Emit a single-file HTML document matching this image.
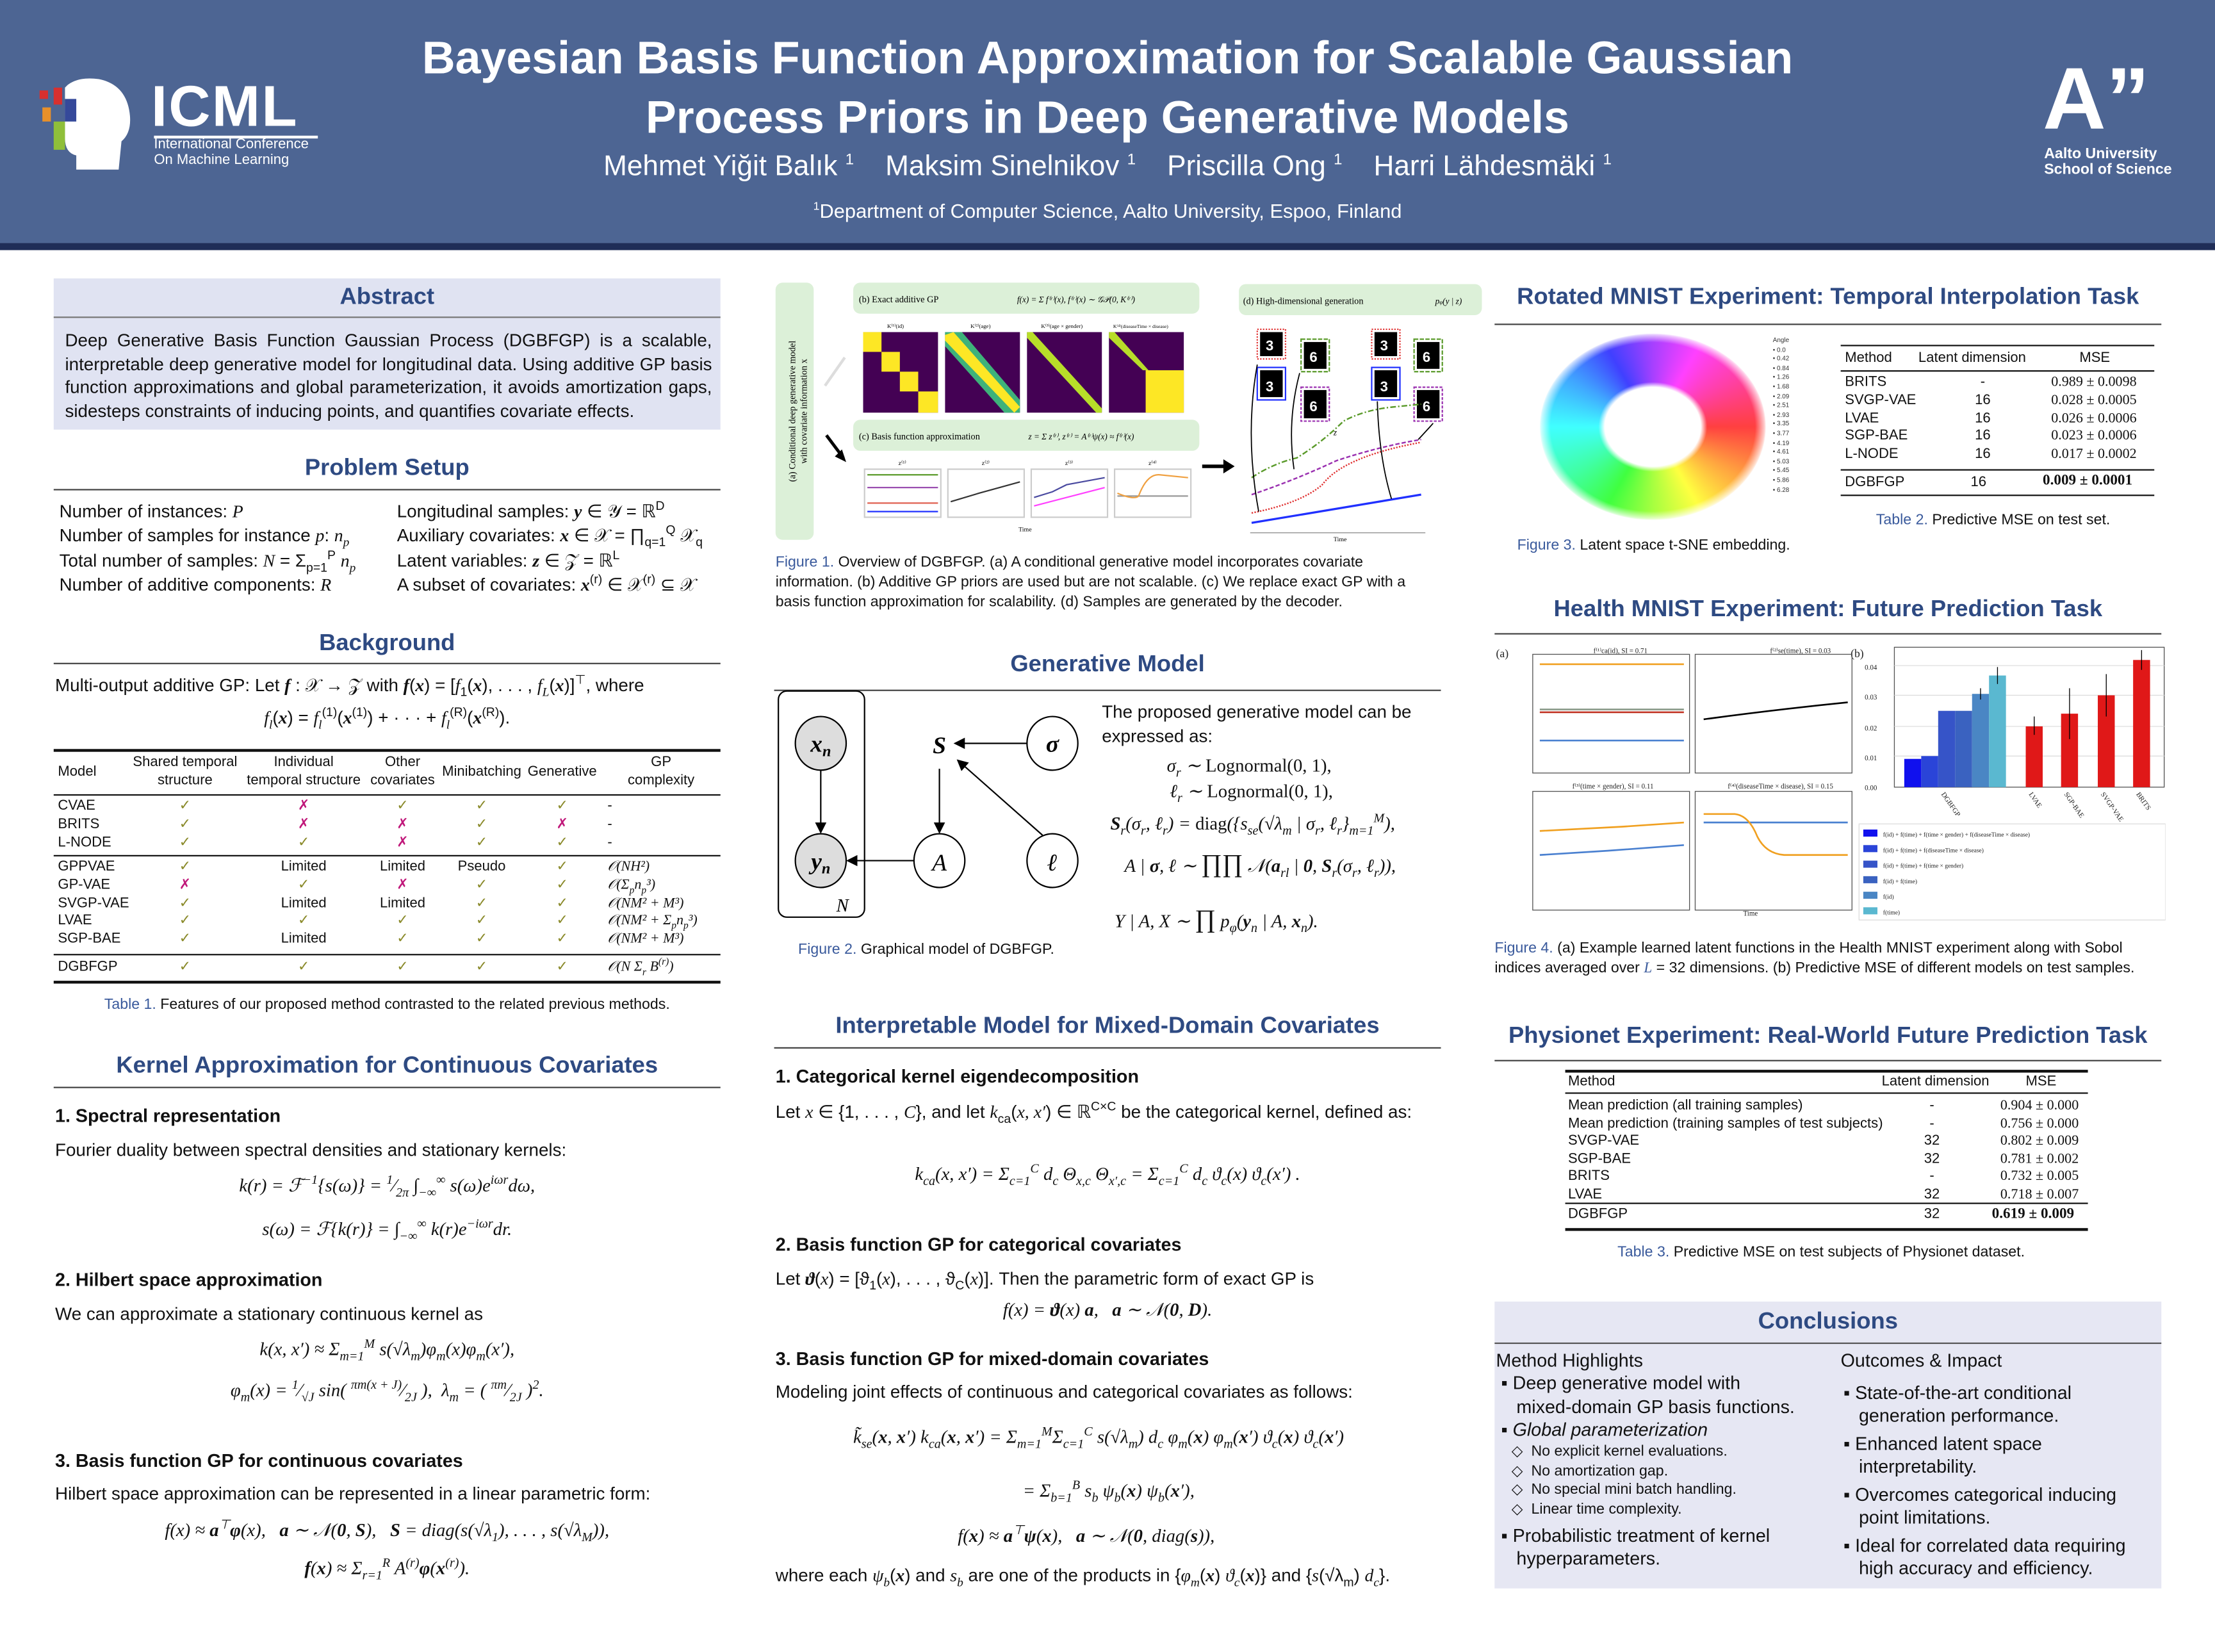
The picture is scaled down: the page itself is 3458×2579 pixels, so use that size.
<!DOCTYPE html>
<html><head><meta charset="utf-8">
<style>
html,body{margin:0;padding:0;background:#fff;}
body{width:3458px;height:2579px;overflow:hidden;position:relative;}
#p{position:absolute;left:0;top:0;width:1568px;height:1169px;transform:scale(2.2054,2.2062);transform-origin:0 0;font-family:"Liberation Sans",sans-serif;color:#111;}
sup,sub{line-height:0;font-size:70%;}
.t{position:absolute;white-space:nowrap;}
.b13{font-size:12.6px;}
.m{font-family:"Liberation Serif",serif;font-style:italic;}
.h{position:absolute;font-weight:bold;font-size:16.5px;color:#2e4a82;white-space:nowrap;text-align:center;}
.ln{position:absolute;height:1px;background:#444;}
.cap{position:absolute;font-size:10.5px;white-space:nowrap;}
.cap span{color:#3a5a9c;}
.sub{font-weight:bold;font-size:13px;}
.tb{position:absolute;font-size:10px;}
.ck{color:#8a8a2a;}
.xx{color:#c0187a;}
.c{position:absolute;text-align:center;transform:translateX(-50%);white-space:nowrap;}
</style></head><body><div id="p">

<!-- HEADER -->
<div style="position:absolute;left:0;top:0;width:1568px;height:172px;background:#4d6593;"></div>
<div style="position:absolute;left:0;top:172px;width:1568px;height:5px;background:#1f2d57;"></div>
<svg class="t" style="left:26px;top:52px" width="70" height="70" viewBox="0 0 70 70">
<path d="M22 8 Q30 2 44 4 Q64 8 66 30 Q67 42 60 48 L58 68 L28 68 L28 58 Q20 56 20 46 L20 10 Z" fill="#fff"/>
<rect x="12" y="10" width="6" height="12" fill="#d8302f"/><rect x="20" y="18" width="8" height="16" fill="#35499a"/>
<rect x="4" y="24" width="6" height="10" fill="#e8902a"/><rect x="12" y="34" width="8" height="20" fill="#8fbf3a"/>
<rect x="2" y="12" width="6" height="6" fill="#d8302f"/>
</svg>
<div class="t" style="left:107px;top:52px;font-size:41px;font-weight:bold;color:#fff;letter-spacing:1px">ICML</div>
<div style="position:absolute;left:109px;top:96px;width:116px;height:2px;background:#fff"></div>
<div class="t" style="left:109px;top:97px;font-size:10px;color:#fff;line-height:11px">International Conference<br>On Machine Learning</div>
<div class="c" style="left:784px;top:20px;font-size:32.5px;font-weight:bold;color:#fff;line-height:42px">Bayesian Basis Function Approximation for Scalable Gaussian<br>Process Priors in Deep Generative Models</div>
<div class="c" style="left:784px;top:107px;font-size:20px;color:#fff">Mehmet Yiğit Balık <sup style="font-size:11px">1</sup>&nbsp;&nbsp;&nbsp; Maksim Sinelnikov <sup style="font-size:11px">1</sup>&nbsp;&nbsp;&nbsp; Priscilla Ong <sup style="font-size:11px">1</sup>&nbsp;&nbsp;&nbsp; Harri Lähdesmäki <sup style="font-size:11px">1</sup></div>
<div class="c" style="left:784px;top:141px;font-size:14px;color:#fff"><sup style="font-size:8px">1</sup>Department of Computer Science, Aalto University, Espoo, Finland</div>
<div class="t" style="left:1446px;top:36px;font-size:62px;font-weight:bold;color:#fff;line-height:70px">A”</div>
<div class="t" style="left:1447px;top:104px;font-size:10.5px;font-weight:bold;color:#fff;line-height:11px">Aalto University<br>School of Science</div>

<!-- COLUMN 1 -->
<div style="position:absolute;left:38px;top:197px;width:472px;height:107px;background:#e0e3f2"></div>
<div class="h" style="left:38px;width:472px;top:201px">Abstract</div>
<div class="ln" style="left:38px;width:472px;top:224px;background:#777"></div>
<div class="t b13" style="left:46px;top:233px;line-height:16.5px;width:458px;white-space:normal;text-align:justify">Deep Generative Basis Function Gaussian Process (DGBFGP) is a scalable, interpretable deep generative model for longitudinal data. Using additive GP basis function approximations and global parameterization, it avoids amortization gaps, sidesteps constraints of inducing points, and quantifies covariate effects.</div>

<div class="h" style="left:38px;width:472px;top:322px">Problem Setup</div>
<div class="ln" style="left:38px;width:472px;top:346px"></div>
<div class="t b13" style="left:42px;top:354px;line-height:17.3px">Number of instances: <span class="m">P</span><br>Number of samples for instance <span class="m">p</span>: <span class="m">n<sub>p</sub></span><br>Total number of samples: <span class="m">N</span> = Σ<sub>p=1</sub><sup>P</sup> <span class="m">n<sub>p</sub></span><br>Number of additive components: <span class="m">R</span></div>
<div class="t b13" style="left:281px;top:354px;line-height:17.3px">Longitudinal samples: <b class="m">y</b> ∈ 𝒴 = ℝ<sup>D</sup><br>Auxiliary covariates: <b class="m">x</b> ∈ 𝒳 = ∏<sub>q=1</sub><sup>Q</sup> 𝒳<sub>q</sub><br>Latent variables: <b class="m">z</b> ∈ 𝒵 = ℝ<sup>L</sup><br>A subset of covariates: <b class="m">x</b><sup>(r)</sup> ∈ 𝒳<sup>(r)</sup> ⊆ 𝒳</div>

<div class="h" style="left:38px;width:472px;top:446px">Background</div>
<div class="ln" style="left:38px;width:472px;top:469px"></div>
<div class="t b13" style="left:39px;top:478px">Multi-output additive GP: Let <b class="m">f</b> : 𝒳 → 𝒵 with <b class="m">f</b>(<b class="m">x</b>) = [<span class="m">f</span><sub>1</sub>(<b class="m">x</b>), . . . , <span class="m">f<sub>L</sub></span>(<b class="m">x</b>)]<sup>⊤</sup>, where</div>
<div class="c b13" style="left:274px;top:501px"><span class="m">f<sub>l</sub></span>(<b class="m">x</b>) = <span class="m">f<sub>l</sub></span><sup>(1)</sup>(<b class="m">x</b><sup>(1)</sup>) + · · · + <span class="m">f<sub>l</sub></span><sup>(R)</sup>(<b class="m">x</b><sup>(R)</sup>).</div>

<!-- Table 1 -->
<div class="ln" style="left:38px;width:472px;top:530px;height:1.5px;background:#111"></div>
<div class="tb" style="left:41px;top:541px">Model</div>
<div class="tb c" style="left:131px;top:534px;line-height:12.5px">Shared temporal<br>structure</div>
<div class="tb c" style="left:215px;top:534px;line-height:12.5px">Individual<br>temporal structure</div>
<div class="tb c" style="left:285px;top:534px;line-height:12.5px">Other<br>covariates</div>
<div class="tb c" style="left:341px;top:541px">Minibatching</div>
<div class="tb c" style="left:398px;top:541px">Generative</div>
<div class="tb c" style="left:468px;top:534px;line-height:12.5px">GP<br>complexity</div>
<div class="ln" style="left:38px;width:472px;top:562px;background:#111"></div>
<div class="ln" style="left:38px;width:472px;top:605px;background:#111"></div>
<div class="ln" style="left:38px;width:472px;top:675px;background:#111"></div>
<div class="ln" style="left:38px;width:472px;top:694px;height:1.5px;background:#111"></div>
<div class="tb" style="left:41px;top:565px;line-height:12.8px">CVAE<br>BRITS<br>L-NODE</div>
<div class="tb" style="left:41px;top:608px;line-height:12.8px">GPPVAE<br>GP-VAE<br>SVGP-VAE<br>LVAE<br>SGP-BAE</div>
<div class="tb" style="left:41px;top:679px">DGBFGP</div>
<div class="tb c" style="left:131px;top:565px;line-height:12.8px"><span class="ck">✓</span><br><span class="ck">✓</span><br><span class="ck">✓</span></div>
<div class="tb c" style="left:215px;top:565px;line-height:12.8px"><span class="xx">✗</span><br><span class="xx">✗</span><br><span class="ck">✓</span></div>
<div class="tb c" style="left:285px;top:565px;line-height:12.8px"><span class="ck">✓</span><br><span class="xx">✗</span><br><span class="xx">✗</span></div>
<div class="tb c" style="left:341px;top:565px;line-height:12.8px"><span class="ck">✓</span><br><span class="ck">✓</span><br><span class="ck">✓</span></div>
<div class="tb c" style="left:398px;top:565px;line-height:12.8px"><span class="ck">✓</span><br><span class="xx">✗</span><br><span class="ck">✓</span></div>
<div class="tb" style="left:430px;top:565px;line-height:12.8px">-<br>-<br>-</div>
<div class="tb c" style="left:131px;top:608px;line-height:12.8px"><span class="ck">✓</span><br><span class="xx">✗</span><br><span class="ck">✓</span><br><span class="ck">✓</span><br><span class="ck">✓</span></div>
<div class="tb c" style="left:215px;top:608px;line-height:12.8px">Limited<br><span class="ck">✓</span><br>Limited<br><span class="ck">✓</span><br>Limited</div>
<div class="tb c" style="left:285px;top:608px;line-height:12.8px">Limited<br><span class="xx">✗</span><br>Limited<br><span class="ck">✓</span><br><span class="ck">✓</span></div>
<div class="tb c" style="left:341px;top:608px;line-height:12.8px">Pseudo<br><span class="ck">✓</span><br><span class="ck">✓</span><br><span class="ck">✓</span><br><span class="ck">✓</span></div>
<div class="tb c" style="left:398px;top:608px;line-height:12.8px"><span class="ck">✓</span><br><span class="ck">✓</span><br><span class="ck">✓</span><br><span class="ck">✓</span><br><span class="ck">✓</span></div>
<div class="tb m" style="left:430px;top:608px;line-height:12.8px">𝒪(NH²)<br>𝒪(Σ<sub>p</sub>n<sub>p</sub>³)<br>𝒪(NM² + M³)<br>𝒪(NM² + Σ<sub>p</sub>n<sub>p</sub>³)<br>𝒪(NM² + M³)</div>
<div class="tb c" style="left:131px;top:679px"><span class="ck">✓</span></div>
<div class="tb c" style="left:215px;top:679px"><span class="ck">✓</span></div>
<div class="tb c" style="left:285px;top:679px"><span class="ck">✓</span></div>
<div class="tb c" style="left:341px;top:679px"><span class="ck">✓</span></div>
<div class="tb c" style="left:398px;top:679px"><span class="ck">✓</span></div>
<div class="tb m" style="left:430px;top:679px">𝒪(N Σ<sub>r</sub> B<sup>(r)</sup>)</div>
<div class="cap c" style="left:274px;top:705px"><span>Table 1.</span> Features of our proposed method contrasted to the related previous methods.</div>

<div class="h" style="left:38px;width:472px;top:745px">Kernel Approximation for Continuous Covariates</div>
<div class="ln" style="left:38px;width:472px;top:769px"></div>
<div class="t sub" style="left:39px;top:782px">1. Spectral representation</div>
<div class="t b13" style="left:39px;top:807px">Fourier duality between spectral densities and stationary kernels:</div>
<div class="c b13 m" style="left:274px;top:831px;font-size:13px">k(r) = ℱ<sup>−1</sup>{s(ω)} = <sup>1</sup>⁄<sub>2π</sub> ∫<sub>−∞</sub><sup>∞</sup> s(ω)e<sup>iωr</sup>dω,</div>
<div class="c b13 m" style="left:274px;top:862px;font-size:13px">s(ω) = ℱ{k(r)} = ∫<sub>−∞</sub><sup>∞</sup> k(r)e<sup>−iωr</sup>dr.</div>
<div class="t sub" style="left:39px;top:898px">2. Hilbert space approximation</div>
<div class="t b13" style="left:39px;top:923px">We can approximate a stationary continuous kernel as</div>
<div class="c b13 m" style="left:274px;top:947px;font-size:13px">k(x, x′) ≈ Σ<sub>m=1</sub><sup>M</sup> s(√λ<sub>m</sub>)φ<sub>m</sub>(x)φ<sub>m</sub>(x′),</div>
<div class="c b13 m" style="left:274px;top:976px;font-size:13px">φ<sub>m</sub>(x) = <sup>1</sup>⁄<sub>√J</sub> sin( <sup>πm(x + J)</sup>⁄<sub>2J</sub> ),&nbsp; λ<sub>m</sub> = ( <sup>πm</sup>⁄<sub>2J</sub> )<sup>2</sup>.</div>
<div class="t sub" style="left:39px;top:1026px">3. Basis function GP for continuous covariates</div>
<div class="t b13" style="left:39px;top:1050px">Hilbert space approximation can be represented in a linear parametric form:</div>
<div class="c b13 m" style="left:274px;top:1075px;font-size:13px">f(x) ≈ <b>a</b><sup>⊤</sup><b>φ</b>(x),&nbsp;&nbsp; <b>a</b> ∼ 𝒩(<b>0</b>, <b>S</b>),&nbsp;&nbsp; <b>S</b> = diag(s(√λ<sub>1</sub>), . . . , s(√λ<sub>M</sub>)),</div>
<div class="c b13 m" style="left:274px;top:1102px;font-size:13px"><b>f</b>(<b>x</b>) ≈ Σ<sub>r=1</sub><sup>R</sup> A<sup>(r)</sup><b>φ</b>(<b>x</b><sup>(r)</sup>).</div>

<!-- COLUMN 2: Figure 1 -->
<svg class="t" style="left:548px;top:198px" width="302" height="186" viewBox="0 0 302 186">
<rect x="1" y="2" width="27" height="182" rx="5" fill="#dcf0d8"/>
<text transform="translate(15,93) rotate(-90)" font-size="6.5" font-family="Liberation Serif" text-anchor="middle">(a) Conditional deep generative model</text>
<text transform="translate(23,93) rotate(-90)" font-size="6.5" font-family="Liberation Serif" text-anchor="middle">with covariate information x</text>
<rect x="56" y="2" width="245" height="22" rx="5" fill="#dcf0d8"/>
<text x="60" y="16" font-size="6.5" font-family="Liberation Serif">(b) Exact additive GP</text>
<text x="172" y="16" font-size="6" font-family="Liberation Serif" font-style="italic">f(x) = Σ f⁽ʳ⁾(x),   f⁽ʳ⁾(x) ∼ 𝒢𝒫(0, K⁽ʳ⁾)</text>
<line x1="36" y1="75" x2="50" y2="55" stroke="#ddd" stroke-width="2"/>
<g>
<rect x="63" y="37" width="53" height="57" fill="#440154"/>
<rect x="63" y="37" width="13" height="14" fill="#fde725"/><rect x="76" y="51" width="13" height="14" fill="#fde725"/><rect x="89" y="65" width="13" height="14" fill="#fde725"/><rect x="102" y="79" width="14" height="15" fill="#fde725"/>
<rect x="121" y="37" width="53" height="57" fill="#440154"/>
<polygon points="121,37 133,37 174,85 174,94 163,94 121,47" fill="#3eb27a"/>
<polygon points="121,39 127,37 174,90 170,94 121,43" fill="#fde725"/>
<rect x="179" y="37" width="53" height="57" fill="#440154"/>
<polygon points="179,37 183,37 232,91 232,94 228,94 179,41" fill="#b8de29"/>
<rect x="237" y="37" width="53" height="57" fill="#440154"/>
<polygon points="237,37 241,37 265,64 261,64 237,41" fill="#b8de29"/>
<rect x="263" y="64" width="27" height="30" fill="#fde725"/>
</g>
<text x="80" y="34" font-size="4" font-family="Liberation Serif">K⁽¹⁾(id)</text><text x="139" y="34" font-size="4" font-family="Liberation Serif">K⁽²⁾(age)</text><text x="189" y="34" font-size="4" font-family="Liberation Serif">K⁽³⁾(age × gender)</text><text x="240" y="34" font-size="3.5" font-family="Liberation Serif">K⁽⁴⁾(diseaseTime × disease)</text>
<line x1="37" y1="110" x2="49" y2="126" stroke="#000" stroke-width="2.2"/><polygon points="51,129 43,125 48,120" fill="#000"/>
<rect x="56" y="99" width="245" height="22" rx="5" fill="#dcf0d8"/>
<text x="60" y="113" font-size="6.5" font-family="Liberation Serif">(c) Basis function approximation</text>
<text x="180" y="113" font-size="6" font-family="Liberation Serif" font-style="italic">z = Σ z⁽ʳ⁾,  z⁽ʳ⁾ = A⁽ʳ⁾ψ(x) ≈ f⁽ʳ⁾(x)</text>
<g fill="none" stroke-width="1">
<rect x="64" y="134" width="54" height="34" stroke="#ccc"/><line x1="66" y1="138" x2="116" y2="138" stroke="#5a9a2a"/><line x1="66" y1="147" x2="116" y2="147" stroke="#9a4fb0"/><line x1="66" y1="158" x2="116" y2="158" stroke="#e06050"/><line x1="66" y1="164" x2="116" y2="164" stroke="#2030ff"/>
<rect x="123" y="134" width="54" height="34" stroke="#ccc"/><polyline points="125,157 145,151 174,143" stroke="#333"/>
<rect x="182" y="134" width="54" height="34" stroke="#ccc"/><polyline points="184,154 197,150 207,145 234,140" stroke="#4a4aa0"/><line x1="184" y1="160" x2="234" y2="147" stroke="#ff40ff"/>
<rect x="241" y="134" width="54" height="34" stroke="#ccc"/><line x1="243" y1="153" x2="293" y2="153" stroke="#999"/><path d="M243 151 Q255 156 258 153 Q264 137 273 138 L293 140" stroke="#f0a040"/>
</g>
<text x="88" y="131" font-size="4.5" font-family="Liberation Serif">z⁽¹⁾</text><text x="147" y="131" font-size="4.5" font-family="Liberation Serif">z⁽²⁾</text><text x="206" y="131" font-size="4.5" font-family="Liberation Serif">z⁽³⁾</text><text x="265" y="131" font-size="4.5" font-family="Liberation Serif">z⁽⁴⁾</text>
<text x="173" y="178" font-size="4.5" font-family="Liberation Serif">Time</text>
</svg>
<svg class="t" style="left:850px;top:320px" width="26" height="20" viewBox="0 0 26 20"><line x1="1" y1="10" x2="18" y2="10" stroke="#000" stroke-width="2.5"/><polygon points="24,10 16,5 16,15" fill="#000"/></svg>
<svg class="t" style="left:876px;top:198px" width="174" height="186" viewBox="0 0 174 186">
<rect x="1" y="3" width="172" height="22" rx="5" fill="#dcf0d8"/>
<text x="4" y="17" font-size="6.5" font-family="Liberation Serif">(d) High-dimensional generation</text>
<text x="140" y="17" font-size="6" font-family="Liberation Serif" font-style="italic">p<tspan font-size="4">φ</tspan>(y | z)</text>
<g fill="#000"><rect x="16" y="37" width="16" height="17"/><rect x="47" y="44" width="16" height="19"/><rect x="16" y="64" width="16" height="19"/><rect x="47" y="78" width="16" height="20"/><rect x="97" y="37" width="16" height="17"/><rect x="127" y="44" width="16" height="19"/><rect x="97" y="64" width="16" height="19"/><rect x="127" y="78" width="16" height="20"/></g>
<g fill="none" stroke-width="1"><rect x="14" y="35" width="20" height="21" stroke="#e03030" stroke-dasharray="1,1"/><rect x="45" y="42" width="20" height="23" stroke="#5a9a2a" stroke-dasharray="3,1"/><rect x="14" y="62" width="20" height="23" stroke="#2030ff"/><rect x="45" y="76" width="20" height="24" stroke="#9a30b0" stroke-dasharray="2,1"/><rect x="95" y="35" width="20" height="21" stroke="#e03030" stroke-dasharray="1,1"/><rect x="125" y="42" width="20" height="23" stroke="#5a9a2a" stroke-dasharray="3,1"/><rect x="95" y="62" width="20" height="23" stroke="#2030ff"/><rect x="125" y="76" width="20" height="24" stroke="#9a30b0" stroke-dasharray="2,1"/></g>
<g font-family="Liberation Sans" font-size="10" fill="#fff" font-weight="bold"><text x="20" y="50">3</text><text x="51" y="58">6</text><text x="20" y="79">3</text><text x="51" y="93">6</text><text x="101" y="50">3</text><text x="131" y="58">6</text><text x="101" y="79">3</text><text x="131" y="93">6</text></g>
<g fill="none" stroke-width="1.1">
<path d="M10 140 Q25 130 42 126 Q60 115 75 100 Q90 92 110 90 L130 88" stroke="#5a9a2a" stroke-dasharray="4,1.5,1,1.5"/>
<path d="M10 152 Q40 142 70 128 Q100 118 130 113" stroke="#9a30b0" stroke-dasharray="3,1.5"/>
<path d="M10 165 Q45 158 60 145 Q75 125 130 115" stroke="#e03030" stroke-dasharray="1,1"/>
<line x1="10" y1="172" x2="130" y2="152" stroke="#2030ff" stroke-width="1.5"/>
<line x1="9" y1="179" x2="133" y2="179" stroke="#888" stroke-width="0.6"/>
<path d="M15 164 Q5 110 14 60" stroke="#000" stroke-width="0.8"/><path d="M40 134 Q35 100 44 66" stroke="#000" stroke-width="0.8"/><path d="M109 155 Q100 125 99 86" stroke="#000" stroke-width="0.8"/><path d="M128 113 Q140 100 138 102" stroke="#000" stroke-width="0.8"/>
</g>
<text x="68" y="110" font-size="6" font-style="italic" font-family="Liberation Serif">z</text>
<text x="68" y="185" font-size="4.5" font-family="Liberation Serif">Time</text>
</svg>
<div class="cap" style="left:549px;top:392px;line-height:13.8px;width:470px;white-space:normal"><span>Figure 1.</span> Overview of DGBFGP. (a) A conditional generative model incorporates covariate information. (b) Additive GP priors are used but are not scalable. (c) We replace exact GP with a basis function approximation for scalability. (d) Samples are generated by the decoder.</div>

<div class="h" style="left:548px;width:472px;top:461px">Generative Model</div>
<div class="ln" style="left:548px;width:472px;top:488px"></div>
<svg class="t" style="left:548px;top:488px" width="230" height="165" viewBox="0 0 230 165">
<defs><marker id="ar" markerWidth="8" markerHeight="8" refX="7" refY="4" orient="auto" markerUnits="userSpaceOnUse"><path d="M0,0 L8,4 L0,8 Z" fill="#000"/></marker></defs>
<rect x="3" y="1" width="61" height="160" rx="6" fill="none" stroke="#000" stroke-width="1"/>
<ellipse cx="33" cy="38" rx="18" ry="19" fill="#ddd" stroke="#000"/>
<ellipse cx="33" cy="121" rx="18" ry="19" fill="#ddd" stroke="#000"/>
<ellipse cx="117" cy="121" rx="18" ry="19" fill="#fff" stroke="#000"/>
<ellipse cx="197" cy="38" rx="18" ry="19" fill="#fff" stroke="#000"/>
<ellipse cx="197" cy="121" rx="18" ry="19" fill="#fff" stroke="#000"/>
<g stroke="#000" stroke-width="1" marker-end="url(#ar)"><line x1="33" y1="57" x2="33" y2="101"/><line x1="117" y1="56" x2="117" y2="101"/><line x1="179" y1="38" x2="128" y2="38"/><line x1="190" y1="103" x2="130" y2="50"/><line x1="99" y1="121" x2="52" y2="121"/></g>
<g font-family="Liberation Serif" font-style="italic" font-weight="bold" font-size="17" text-anchor="middle"><text x="33" y="44">x<tspan font-size="11" dy="3">n</tspan></text><text x="33" y="127">y<tspan font-size="11" dy="3">n</tspan></text><text x="117" y="45">S</text><text x="197" y="44">σ</text><text x="197" y="128">ℓ</text></g>
<text x="117" y="128" font-family="Liberation Serif" font-style="italic" font-size="17" text-anchor="middle">A</text>
<text x="44" y="157" font-family="Liberation Serif" font-style="italic" font-size="13">N</text>
</svg>
<div class="t b13" style="left:780px;top:496px;line-height:16.5px">The proposed generative model can be<br>expressed as:</div>
<div class="t m" style="left:826px;top:534px;font-size:13px">σ<sub>r</sub> ∼ <span style="font-style:normal">Lognormal(0, 1),</span></div>
<div class="t m" style="left:828px;top:552px;font-size:13px">ℓ<sub>r</sub> ∼ <span style="font-style:normal">Lognormal(0, 1),</span></div>
<div class="t m" style="left:786px;top:575px;font-size:13px"><b>S</b><sub>r</sub>(σ<sub>r</sub>, ℓ<sub>r</sub>) = <span style="font-style:normal">diag</span>({s<sub>se</sub>(√λ<sub>m</sub> | σ<sub>r</sub>, ℓ<sub>r</sub>}<sub>m=1</sub><sup>M</sup>),</div>
<div class="t m" style="left:796px;top:601px;font-size:13px">A | <b>σ</b>, <b>ℓ</b> ∼ <span style="font-size:18px;font-style:normal">∏∏</span> 𝒩(<b>a</b><sub>rl</sub> | <b>0</b>, <b>S</b><sub>r</sub>(σ<sub>r</sub>, ℓ<sub>r</sub>)),</div>
<div class="t m" style="left:789px;top:640px;font-size:13px">Y | A, X ∼ <span style="font-size:18px;font-style:normal">∏</span> p<sub>φ</sub>(<b>y</b><sub>n</sub> | A, <b>x</b><sub>n</sub>).</div>
<div class="cap" style="left:565px;top:666px"><span>Figure 2.</span> Graphical model of DGBFGP.</div>

<div class="h" style="left:548px;width:472px;top:717px">Interpretable Model for Mixed-Domain Covariates</div>
<div class="ln" style="left:548px;width:472px;top:741px"></div>
<div class="t sub" style="left:549px;top:754px">1. Categorical kernel eigendecomposition</div>
<div class="t b13" style="left:549px;top:779px">Let <span class="m">x</span> ∈ {1, . . . , <span class="m">C</span>}, and let <span class="m">k</span><sub>ca</sub>(<span class="m">x, x′</span>) ∈ ℝ<sup>C×C</sup> be the categorical kernel, defined as:</div>
<div class="c m" style="left:784px;top:823px;font-size:13px">k<sub>ca</sub>(x, x′) = Σ<sub>c=1</sub><sup>C</sup> d<sub>c</sub> Θ<sub>x,c</sub> Θ<sub>x′,c</sub> = Σ<sub>c=1</sub><sup>C</sup> d<sub>c</sub> ϑ<sub>c</sub>(x) ϑ<sub>c</sub>(x′) .</div>
<div class="t sub" style="left:549px;top:873px">2. Basis function GP for categorical covariates</div>
<div class="t b13" style="left:549px;top:898px">Let <b class="m">ϑ</b>(<span class="m">x</span>) = [ϑ<sub>1</sub>(<span class="m">x</span>), . . . , ϑ<sub>C</sub>(<span class="m">x</span>)]. Then the parametric form of exact GP is</div>
<div class="c m" style="left:784px;top:919px;font-size:13px">f(x) = <b>ϑ</b>(x) <b>a</b>,&nbsp;&nbsp; <b>a</b> ∼ 𝒩(<b>0</b>, <b>D</b>).</div>
<div class="t sub" style="left:549px;top:954px">3. Basis function GP for mixed-domain covariates</div>
<div class="t b13" style="left:549px;top:978px">Modeling joint effects of continuous and categorical covariates as follows:</div>
<div class="t m" style="left:604px;top:1009px;font-size:13px">k̃<sub>se</sub>(<b>x</b>, <b>x</b>′) k<sub>ca</sub>(<b>x</b>, <b>x</b>′) = Σ<sub>m=1</sub><sup>M</sup>Σ<sub>c=1</sub><sup>C</sup> s(√λ<sub>m</sub>) d<sub>c</sub> φ<sub>m</sub>(<b>x</b>) φ<sub>m</sub>(<b>x</b>′) ϑ<sub>c</sub>(<b>x</b>) ϑ<sub>c</sub>(<b>x</b>′)</div>
<div class="t m" style="left:724px;top:1047px;font-size:13px">= Σ<sub>b=1</sub><sup>B</sup> s<sub>b</sub> ψ<sub>b</sub>(<b>x</b>) ψ<sub>b</sub>(<b>x</b>′),</div>
<div class="t m" style="left:678px;top:1079px;font-size:13px">f(<b>x</b>) ≈ <b>a</b><sup>⊤</sup><b>ψ</b>(<b>x</b>),&nbsp;&nbsp; <b>a</b> ∼ 𝒩(<b>0</b>, diag(<b>s</b>)),</div>
<div class="t b13" style="left:549px;top:1108px">where each <span class="m">ψ<sub>b</sub></span>(<b class="m">x</b>) and <span class="m">s<sub>b</sub></span> are one of the products in {<span class="m">φ<sub>m</sub></span>(<b class="m">x</b>) <span class="m">ϑ<sub>c</sub></span>(<b class="m">x</b>)} and {<span class="m">s</span>(√λ<sub>m</sub>) <span class="m">d<sub>c</sub></span>}.</div>

<!-- COLUMN 3 -->
<div class="h" style="left:1058px;width:472px;top:201px">Rotated MNIST Experiment: Temporal Interpolation Task</div>
<div class="ln" style="left:1058px;width:472px;top:229px"></div>
<div style="position:absolute;left:1090px;top:236px;width:160px;height:132px;border-radius:50%;background:conic-gradient(from 90deg,#f00,#f80,#ff0,#8f0,#0f0,#0f8,#0ff,#08f,#00f,#80f,#f0f,#f08,#f00);-webkit-mask:radial-gradient(ellipse at center,transparent 30%,#000 34%,#000 64%,transparent 72%);mask:radial-gradient(ellipse at center,transparent 30%,#000 34%,#000 64%,transparent 72%);filter:blur(0.6px);opacity:.75"></div>
<div class="t" style="left:1255px;top:238px;font-size:4.5px;line-height:6.6px;color:#333">Angle<br>• 0.0<br>• 0.42<br>• 0.84<br>• 1.26<br>• 1.68<br>• 2.09<br>• 2.51<br>• 2.93<br>• 3.35<br>• 3.77<br>• 4.19<br>• 4.61<br>• 5.03<br>• 5.45<br>• 5.86<br>• 6.28</div>
<div class="cap" style="left:1074px;top:380px"><span>Figure 3.</span> Latent space t-SNE embedding.</div>
<div class="ln" style="left:1303px;width:222px;top:244px;background:#111"></div>
<div class="t" style="left:1306px;top:248px;font-size:10px">Method</div><div class="t" style="left:1358px;top:248px;font-size:10px">Latent dimension</div><div class="t" style="left:1472px;top:248px;font-size:10px">MSE</div>
<div class="ln" style="left:1303px;width:222px;top:262px;background:#111"></div>
<div class="t" style="left:1306px;top:265px;font-size:10px;line-height:12.8px">BRITS<br>SVGP-VAE<br>LVAE<br>SGP-BAE<br>L-NODE</div>
<div class="t" style="left:1398px;top:265px;font-size:10px;line-height:12.8px;text-align:center">-<br>16<br>16<br>16<br>16</div>
<div class="t" style="left:1452px;top:265px;font-size:10px;line-height:12.8px;font-family:'Liberation Serif',serif">0.989 ± 0.0098<br>0.028 ± 0.0005<br>0.026 ± 0.0006<br>0.023 ± 0.0006<br>0.017 ± 0.0002</div>
<div class="ln" style="left:1303px;width:222px;top:332px;background:#111"></div>
<div class="t" style="left:1306px;top:336px;font-size:10px">DGBFGP</div><div class="t" style="left:1395px;top:336px;font-size:10px">16</div><div class="t" style="left:1446px;top:335px;font-size:10.5px;font-weight:bold;font-family:'Liberation Serif',serif">0.009 ± 0.0001</div>
<div class="ln" style="left:1303px;width:222px;top:350px;background:#111"></div>
<div class="cap" style="left:1328px;top:362px"><span>Table 2.</span> Predictive MSE on test set.</div>

<div class="h" style="left:1058px;width:472px;top:422px">Health MNIST Experiment: Future Prediction Task</div>
<div class="ln" style="left:1058px;width:472px;top:448px"></div>
<svg class="t" style="left:1058px;top:452px" width="475" height="208" viewBox="0 0 475 208">
<g font-family="Liberation Serif" font-size="5" fill="#222">
<text x="1" y="13" font-size="8">(a)</text><text x="252" y="13" font-size="8">(b)</text>
<text x="70" y="10">f⁽¹⁾ca(id), SI = 0.71</text><text x="195" y="10">f⁽²⁾se(time), SI = 0.03</text>
<text x="55" y="106">f⁽³⁾(time × gender), SI = 0.11</text><text x="165" y="106">f⁽⁴⁾(diseaseTime × disease), SI = 0.15</text>
<text x="176" y="196">Time</text>
</g>
<g fill="none" stroke="#555" stroke-width="0.6">
<rect x="27" y="11" width="111" height="84"/><rect x="142" y="11" width="111" height="84"/><rect x="27" y="108" width="111" height="84"/><rect x="142" y="108" width="111" height="84"/>
</g>
<g fill="none" stroke-width="1.2">
<line x1="32" y1="18" x2="134" y2="18" stroke="#f0a020"/><line x1="32" y1="50" x2="134" y2="50" stroke="#889988"/><line x1="32" y1="52" x2="134" y2="52" stroke="#c03020"/><line x1="32" y1="72" x2="134" y2="72" stroke="#4a80d0"/>
<path d="M148 57 Q200 50 250 45" stroke="#000"/>
<path d="M32 136 L90 133 L134 130" stroke="#f0a020"/><path d="M32 153 L80 150 L134 146" stroke="#4a80d0"/>
<line x1="148" y1="130" x2="250" y2="130" stroke="#4a80d0"/><path d="M148 124 L170 124 Q180 125 186 140 Q192 152 205 153 L250 153" stroke="#f0a020"/>
</g>
<g stroke="#555" stroke-width="0.6"><rect x="283" y="6" width="191" height="99" fill="none"/>
<g stroke="#ddd"><line x1="283" y1="19" x2="474" y2="19"/><line x1="283" y1="40" x2="474" y2="40"/><line x1="283" y1="62" x2="474" y2="62"/><line x1="283" y1="83" x2="474" y2="83"/></g></g>
<rect x="290" y="85" width="12" height="20" fill="#1010ee"/><rect x="302" y="83" width="12" height="22" fill="#2a44d8"/><rect x="314" y="51" width="12" height="54" fill="#3654c8"/><rect x="326" y="51" width="12" height="54" fill="#3a62c0"/><rect x="338" y="39" width="12" height="66" fill="#4a86c4"/><rect x="350" y="26" width="12" height="79" fill="#5ab8d0"/>
<g fill="#e01818"><rect x="376" y="62" width="12" height="43"/><rect x="401" y="53" width="12" height="52"/><rect x="427" y="40" width="12" height="65"/><rect x="452" y="15" width="12" height="90"/></g>
<g stroke="#000" stroke-width="0.6"><line x1="382" y1="55" x2="382" y2="68"/><line x1="407" y1="35" x2="407" y2="71"/><line x1="433" y1="25" x2="433" y2="55"/><line x1="458" y1="8" x2="458" y2="22"/><line x1="356" y1="20" x2="356" y2="32"/><line x1="344" y1="35" x2="344" y2="43"/></g>
<g font-family="Liberation Serif" font-size="5" fill="#222"><text x="262" y="22">0.04</text><text x="262" y="43">0.03</text><text x="262" y="65">0.02</text><text x="262" y="86">0.01</text><text x="262" y="107">0.00</text>
<text transform="translate(316,110) rotate(55)">DGBFGP</text><text transform="translate(378,110) rotate(55)">LVAE</text><text transform="translate(403,110) rotate(55)">SGP-BAE</text><text transform="translate(429,110) rotate(55)">SVGP-VAE</text><text transform="translate(454,110) rotate(55)">BRITS</text></g>
<rect x="258" y="131" width="217" height="68" fill="none" stroke="#ddd" stroke-width="0.6"/>
<g><rect x="261" y="135" width="10" height="5" fill="#1010ee"/><rect x="261" y="146" width="10" height="5" fill="#2a44d8"/><rect x="261" y="157" width="10" height="5" fill="#3654c8"/><rect x="261" y="168" width="10" height="5" fill="#3a62c0"/><rect x="261" y="179" width="10" height="5" fill="#4a86c4"/><rect x="261" y="190" width="10" height="5" fill="#5ab8d0"/></g>
<g font-family="Liberation Serif" font-size="4.3" fill="#222"><text x="275" y="140">f(id) + f(time) + f(time × gender) + f(diseaseTime × disease)</text><text x="275" y="151">f(id) + f(time) + f(diseaseTime × disease)</text><text x="275" y="162">f(id) + f(time) + f(time × gender)</text><text x="275" y="173">f(id) + f(time)</text><text x="275" y="184">f(id)</text><text x="275" y="195">f(time)</text></g>
</svg>
<div class="cap" style="left:1058px;top:665px;line-height:13.5px"><span>Figure 4.</span> (a) Example learned latent functions in the Health MNIST experiment along with Sobol<br>indices averaged over <span class="m">L</span> = 32 dimensions. (b) Predictive MSE of different models on test samples.</div>

<div class="h" style="left:1058px;width:472px;top:724px">Physionet Experiment: Real-World Future Prediction Task</div>
<div class="ln" style="left:1058px;width:472px;top:750px"></div>
<div class="ln" style="left:1108px;width:370px;top:757px;height:1.5px;background:#111"></div>
<div class="t" style="left:1110px;top:760px;font-size:10px">Method</div><div class="t" style="left:1332px;top:760px;font-size:10px">Latent dimension</div><div class="t" style="left:1434px;top:760px;font-size:10px">MSE</div>
<div class="ln" style="left:1108px;width:370px;top:773px;background:#111"></div>
<div class="t" style="left:1110px;top:777px;font-size:10px;line-height:12.5px">Mean prediction (all training samples)<br>Mean prediction (training samples of test subjects)<br>SVGP-VAE<br>SGP-BAE<br>BRITS<br>LVAE</div>
<div class="t" style="left:1362px;top:777px;font-size:10px;line-height:12.5px;text-align:center">-<br>-<br>32<br>32<br>-<br>32</div>
<div class="t" style="left:1416px;top:777px;font-size:10px;line-height:12.5px;font-family:'Liberation Serif',serif">0.904 ± 0.000<br>0.756 ± 0.000<br>0.802 ± 0.009<br>0.781 ± 0.002<br>0.732 ± 0.005<br>0.718 ± 0.007</div>
<div class="ln" style="left:1108px;width:370px;top:851px;background:#111"></div>
<div class="t" style="left:1110px;top:854px;font-size:10px">DGBFGP</div><div class="t" style="left:1362px;top:854px;font-size:10px">32</div><div class="t" style="left:1410px;top:854px;font-size:10.5px;font-weight:bold;font-family:'Liberation Serif',serif">0.619 ± 0.009</div>
<div class="ln" style="left:1108px;width:370px;top:869px;height:1.5px;background:#111"></div>
<div class="cap" style="left:1145px;top:880px"><span>Table 3.</span> Predictive MSE on test subjects of Physionet dataset.</div>

<div style="position:absolute;left:1058px;top:921px;width:472px;height:203px;background:#e6e7f3"></div>
<div class="h" style="left:1058px;width:472px;top:926px">Conclusions</div>
<div class="ln" style="left:1058px;width:472px;top:950px;background:#555"></div>
<div class="t" style="left:1059px;top:955px;font-size:13px;line-height:16.3px">Method Highlights<br>&nbsp;▪ Deep generative model with<br>&nbsp;&nbsp;&nbsp;&nbsp;mixed-domain GP basis functions.<br>&nbsp;▪ <i>Global parameterization</i></div>
<div class="t" style="left:1070px;top:1021px;font-size:10.5px;line-height:13.6px">◇&nbsp; No explicit kernel evaluations.<br>◇&nbsp; No amortization gap.<br>◇&nbsp; No special mini batch handling.<br>◇&nbsp; Linear time complexity.</div>
<div class="t" style="left:1059px;top:1079px;font-size:13px;line-height:16.3px">&nbsp;▪ Probabilistic treatment of kernel<br>&nbsp;&nbsp;&nbsp;&nbsp;hyperparameters.</div>
<div class="t" style="left:1303px;top:955px;font-size:13px;line-height:16.3px">Outcomes &amp; Impact</div>
<div class="t" style="left:1305px;top:978px;font-size:13px;line-height:16.3px">▪ State-of-the-art conditional<br>&nbsp;&nbsp;&nbsp;generation performance.</div>
<div class="t" style="left:1305px;top:1014px;font-size:13px;line-height:16.3px">▪ Enhanced latent space<br>&nbsp;&nbsp;&nbsp;interpretability.</div>
<div class="t" style="left:1305px;top:1050px;font-size:13px;line-height:16.3px">▪ Overcomes categorical inducing<br>&nbsp;&nbsp;&nbsp;point limitations.</div>
<div class="t" style="left:1305px;top:1086px;font-size:13px;line-height:16.3px">▪ Ideal for correlated data requiring<br>&nbsp;&nbsp;&nbsp;high accuracy and efficiency.</div>

</div></body></html>
